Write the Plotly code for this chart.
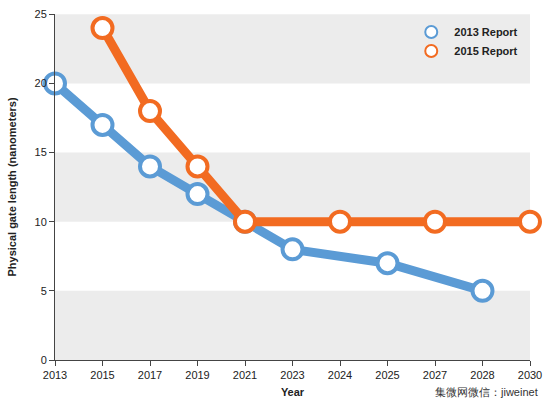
import plotly.graph_objects as go

years = ['2013', '2015', '2017', '2019', '2021', '2023', '2024', '2025', '2027', '2028', '2030']

r2013_x = ['2013', '2015', '2017', '2019', '2021', '2023', '2025', '2028']
r2013_y = [20, 17, 14, 12, 10, 8, 7, 5]

r2015_x = ['2015', '2017', '2019', '2021', '2024', '2027', '2030']
r2015_y = [24, 18, 14, 10, 10, 10, 10]

y_ticks = [0, 5, 10, 15, 20, 25]

blue = '#5b9bd5'
orange = '#f26b21'

fig = go.Figure()
for name, xs, ys, c in [('2013 Report', r2013_x, r2013_y, blue),
                        ('2015 Report', r2015_x, r2015_y, orange)]:
    fig.add_trace(go.Scatter(
        x=xs, y=ys, name=name, mode='lines+markers', showlegend=False,
        line=dict(color=c, width=9),
        marker=dict(size=20, color='white', line=dict(color=c, width=4)),
        cliponaxis=False,
    ))
    # legend entry: marker only
    fig.add_trace(go.Scatter(
        x=[None], y=[None], name=' <b>' + name + '</b>', mode='markers',
        marker=dict(size=22, color='white', line=dict(color=c, width=6)),
    ))

# grey bands
for lo, hi in [(0, 5), (10, 15), (20, 25)]:
    fig.add_shape(type='rect', xref='paper', x0=0, x1=1, yref='y', y0=lo, y1=hi,
                  fillcolor='#ececec', line_width=0, layer='below')

fig.update_layout(
    width=550, height=413,
    margin=dict(l=55, r=13, t=8, b=53),
    plot_bgcolor='white', paper_bgcolor='white',
    font=dict(family='Liberation Sans, Arial', size=11, color='#222'),
    showlegend=True,
    legend=dict(x=0.75, y=0.99, xanchor='left', yanchor='top',
                bgcolor='rgba(0,0,0,0)', itemsizing='constant',
                font=dict(size=11, color='#222'), tracegroupgap=10),
    xaxis=dict(type='category', categoryorder='array', categoryarray=years,
               range=[0, 10], showgrid=False, ticks='outside',
               ticklen=5, tickcolor='#444', showline=True, linecolor='#444',
               title=dict(text='<b>Year</b>', font=dict(size=11), standoff=8)),
    yaxis=dict(range=[0, 25.02], tickvals=y_ticks, showgrid=False, ticks='outside',
               ticklen=5, tickcolor='#444', showline=True, linecolor='#444',
               zeroline=False,
               title=dict(text='<b>Physical gate length (nanometers)</b>', font=dict(size=11))),
)
fig.add_annotation(text='集微网微信：jiweinet', xref='paper', yref='paper',
                   x=1.02, y=-0.115, showarrow=False, xanchor='right',
                   font=dict(size=11, color='#333'))

fig.write_html('out.html', config={'displayModeBar': False},
               post_script="document.body.style.margin='0';")
